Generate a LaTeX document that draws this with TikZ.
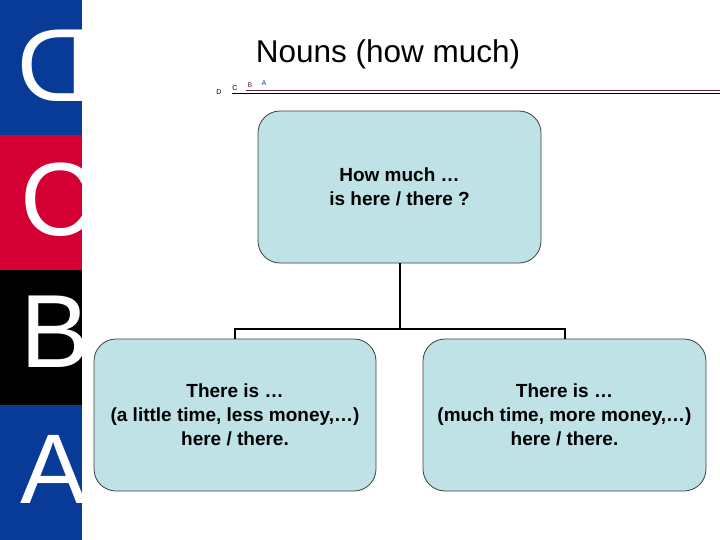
\documentclass[tikz,border=0pt]{standalone}
\usepackage{fontspec}
\setmainfont{Liberation Sans}
\definecolor{stripblue}{RGB}{8,58,152}
\definecolor{stripred}{RGB}{212,0,52}
\definecolor{boxfill}{RGB}{190,226,229}
\definecolor{maroon}{RGB}{90,40,55}
\tikzset{
  box/.style={draw=black!75, line width=0.8pt, fill=boxfill, rounded corners=22pt,
    minimum width=283pt, minimum height=152pt, align=center,
    font=\fontsize{19}{24}\selectfont\bfseries, inner sep=0pt},
  conn/.style={draw=black, line width=2pt},
  bigletter/.style={text=white, font=\fontsize{104}{104}\selectfont, inner sep=0pt, anchor=base west},
  tiny/.style={font=\fontsize{7}{7}\selectfont, inner sep=0pt, anchor=base}
}
\begin{document}
\begin{tikzpicture}[x=1pt,y=-1pt]
\useasboundingbox (0,0) rectangle (720,540);
\fill[white] (0,0) rectangle (720,540);
% left strip
\fill[stripblue] (0,0) rectangle (82,135);
\fill[stripred] (0,135) rectangle (82,270);
\fill[black] (0,270) rectangle (82,405);
\fill[stripblue] (0,405) rectangle (82,540);
\begin{scope}
\clip (0,0) rectangle (82,540);
\node[bigletter] (ld) at (17,102) {\scalebox{-1}[1]{D}};
\node[bigletter] (lc) at (20,236) {C};
\node[bigletter] (lb) at (20,367) {B};
\node[bigletter, font=\fontsize{99}{99}\selectfont] (la) at (20,503) {A};
\end{scope}
% title
\node[font=\fontsize{31.5}{36}\selectfont, inner sep=0pt, anchor=base] (title) at (388,63) {Nouns (how much)};
% header rule
\node[tiny] (hd) at (219,95) {D};
\node[tiny] (hc) at (235,91) {C};
\node[tiny, text=maroon] (hb) at (250,88) {B};
\node[tiny, text=stripblue] (ha) at (264,86) {A};
\coordinate (rl) at (232,93.5);
\coordinate (rr) at (720,93.5);
\coordinate (ml) at (246,90.5);
\coordinate (mr) at (720,90.5);
\draw[maroon, line width=1.2pt] (ml) -- (mr);
\draw[black, line width=1pt] (rl) -- (rr);
% boxes
\node[box] (top) at (399.5,187) {How much \dots\\is here / there ?};
\node[box, minimum width=282pt] (left) at (235,415) {There is \dots\\(a little time, less money,\dots)\\here / there.};
\node[box] (right) at (564.5,415) {There is \dots\\(much time, more money,\dots)\\here / there.};
% connectors
\coordinate (mid) at (399.5,329);
\draw[conn] (top.south) -- (mid);
\draw[conn] (left.north) |- (mid) -| (right.north);
\end{tikzpicture}
\end{document}
